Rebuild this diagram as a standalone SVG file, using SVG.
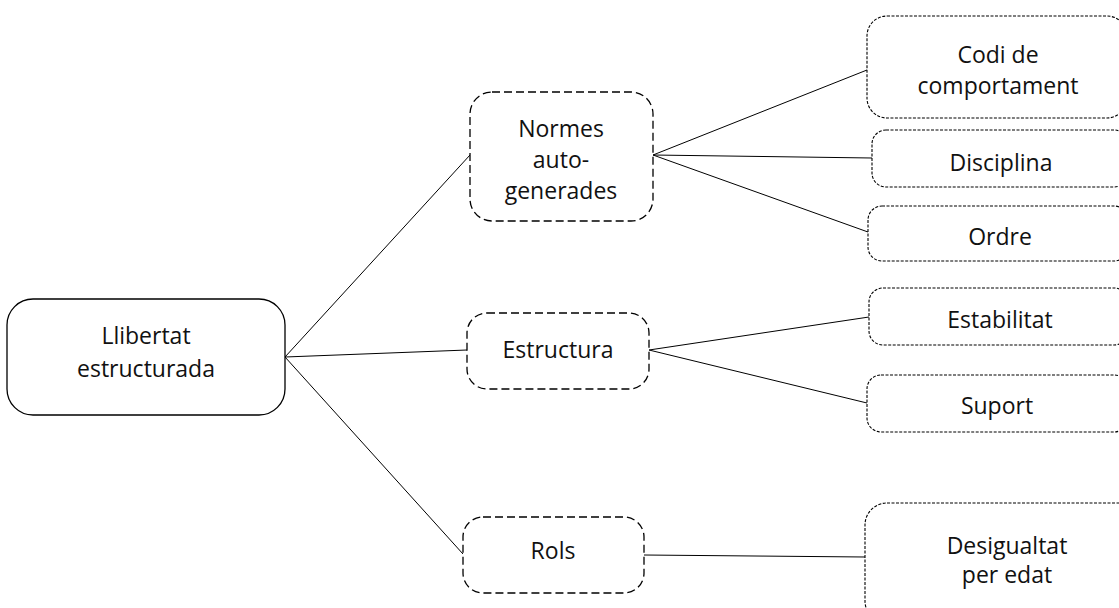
<svg xmlns="http://www.w3.org/2000/svg" width="1119" height="608" viewBox="0 0 1119 608">
  <style>
    .root { fill: #ffffff; stroke: #000000; stroke-width: 1.3; }
    .mid { fill: #ffffff; stroke: #000000; stroke-width: 1.3; stroke-dasharray: 8 4; }
    .leaf { fill: #ffffff; stroke: #000000; stroke-width: 1.1; stroke-dasharray: 3 1.5; }
    .edge { stroke: #000000; stroke-width: 1; fill: none; }
    text { font-family: "Open Sans", "Noto Sans", "Liberation Sans", sans-serif; font-size: 23px; fill: #111111; text-anchor: middle; }
  </style>
  <rect width="1119" height="608" fill="#ffffff"/>

  <!-- connectors -->
  <g id="connectors">
    <line class="edge" x1="285" y1="357" x2="470" y2="155"/>
    <line class="edge" x1="285" y1="357" x2="467" y2="350"/>
    <line class="edge" x1="285" y1="357" x2="463" y2="554"/>
    <line class="edge" x1="653" y1="155" x2="867" y2="70"/>
    <line class="edge" x1="653" y1="155" x2="872" y2="158"/>
    <line class="edge" x1="653" y1="155" x2="868" y2="232"/>
    <line class="edge" x1="649" y1="350" x2="869" y2="317"/>
    <line class="edge" x1="649" y1="350" x2="867" y2="403"/>
    <line class="edge" x1="644" y1="555" x2="865" y2="557"/>
  </g>

  <!-- root -->
  <g id="llibertat">
    <rect class="root" x="7" y="299" width="278" height="116" rx="26"/>
    <text x="146" y="344">Llibertat</text>
    <text x="146" y="377">estructurada</text>
  </g>

  <!-- second level -->
  <g id="normes">
    <rect class="mid" x="470" y="92" width="183" height="129" rx="22"/>
    <text x="561" y="137">Normes</text>
    <text x="561" y="168">auto-</text>
    <text x="561" y="199">generades</text>
  </g>
  <g id="estructura">
    <rect class="mid" x="467" y="313" width="182" height="76" rx="20"/>
    <text x="558" y="358">Estructura</text>
  </g>
  <g id="rols">
    <rect class="mid" x="463" y="517" width="181" height="76" rx="20"/>
    <text x="553" y="559">Rols</text>
  </g>

  <!-- third level -->
  <g id="codi">
    <rect class="leaf" x="867" y="16" width="260" height="102" rx="20"/>
    <text x="998" y="63">Codi de</text>
    <text x="998" y="94">comportament</text>
  </g>
  <g id="disciplina">
    <rect class="leaf" x="872" y="130" width="256" height="57" rx="14"/>
    <text x="1001" y="171">Disciplina</text>
  </g>
  <g id="ordre">
    <rect class="leaf" x="868" y="206" width="260" height="55" rx="14"/>
    <text x="1000" y="245">Ordre</text>
  </g>
  <g id="estabilitat">
    <rect class="leaf" x="869" y="288" width="259" height="57" rx="14"/>
    <text x="1000" y="328">Estabilitat</text>
  </g>
  <g id="suport">
    <rect class="leaf" x="867" y="375" width="261" height="57" rx="14"/>
    <text x="997" y="414">Suport</text>
  </g>
  <g id="desigualtat">
    <rect class="leaf" x="865" y="503" width="284" height="120" rx="22"/>
    <text x="1007" y="554">Desigualtat</text>
    <text x="1007" y="583">per edat</text>
  </g>
</svg>
